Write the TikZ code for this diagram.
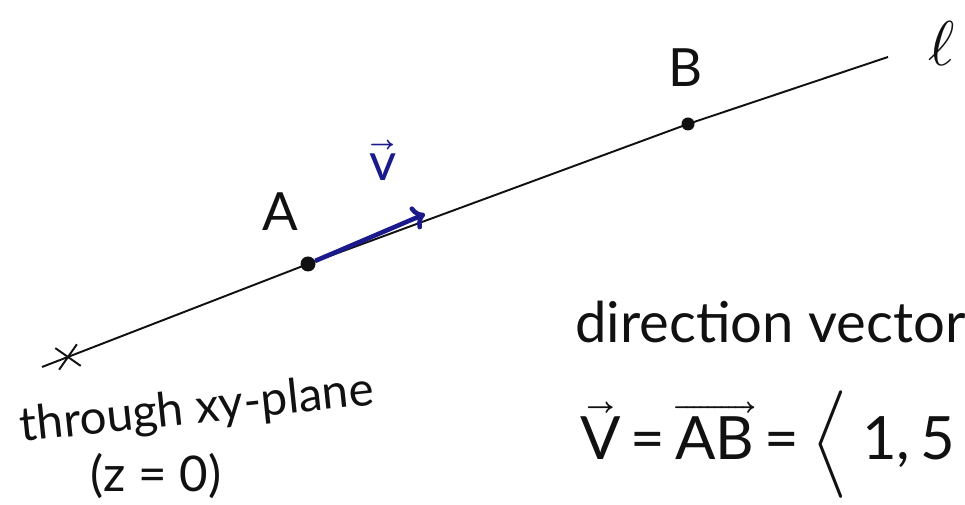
\documentclass[tikz,border=0pt]{standalone}
\usepackage{amsmath}
\usepackage{unicode-math}
\setmainfont{Lato}
\setmathfont{Latin Modern Math}
\usepackage{tikz}
\usetikzlibrary{arrows.meta,shapes.misc}
\definecolor{cV}{HTML}{1A1A8C}
\definecolor{cInk}{HTML}{111111}
\tikzset{
  ln/.style={cInk, line width=1.1pt},
  vecar/.style={cV, line width=2.6pt, -{To[length=7pt,width=14pt]}},
  ptdot/.style={circle, fill=cInk, inner sep=0pt, minimum size=#1},
  lbl/.style={font=\fontsize{30}{34}\selectfont, text=cInk},
  hand/.style={font=\fontsize{27}{32}\selectfont, text=cInk, inner sep=0pt}
}
\begin{document}
\begin{tikzpicture}[x=0.2mm, y=-0.2mm]
\useasboundingbox (0,0) rectangle (965,505);
\clip (0,0) rectangle (965,505);
\coordinate (s) at (42,367);
\coordinate (e) at (888,57);
\node[ptdot=3mm] (A) at (308,264) {};
\node[ptdot=2.6mm] (B) at (688,124) {};
\node[cross out, draw=cInk, line width=1.1pt, minimum size=4mm, rotate=10] (X) at (68,357) {};
\coordinate (vend) at (425,214);
\draw[ln] (s) -- (A.center) -- (B.center) -- (e);
\draw[vecar] (A) -- (vend);
% labels
\node[lbl] (lA) at (280,212) {A};
\node[lbl] (lB) at (686,68) {B};
\node[lbl, font=\fontsize{36}{40}\selectfont] (ll) at (942,44) {$\ell$};
\node[lbl, text=cV] (lv) at (383,160) {$\vec{\mathrm{v}}$};
\node[hand, rotate=6] (xy) at (197,410) {through xy-plane};
\node[hand, font=\fontsize{28}{32}\selectfont] (z0) at (156,476) {(z = 0)};
\node[hand, anchor=west, font=\fontsize{32}{36}\selectfont] (dir) at (575,322) {direction vector};
\node[lbl, anchor=west, inner sep=0pt, font=\fontsize{34}{40}\selectfont] (eq) at (580,445)
  {$\vec{\mathrm{V}}$\,=\,$\overrightarrow{\mathrm{AB}}$\,=\,$\Big\langle$\;1,\,5};
\end{tikzpicture}
\end{document}
